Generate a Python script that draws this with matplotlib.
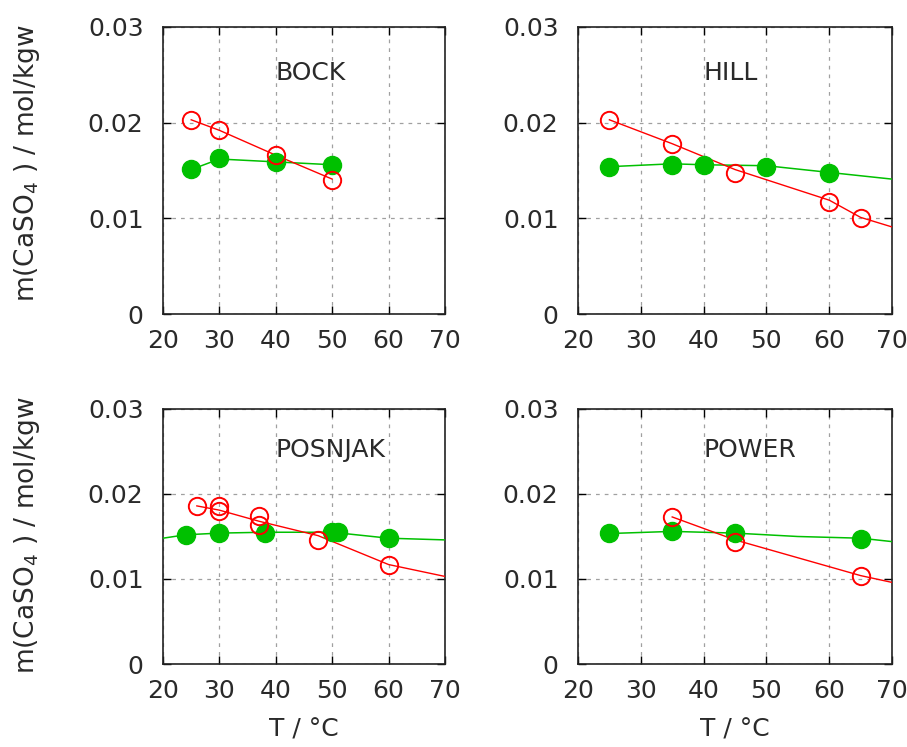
import matplotlib
matplotlib.use('Agg')
import matplotlib.pyplot as plt

# --- data (T in degC, m in mol/kgw) ---
panels = ['BOCK', 'HILL', 'POSNJAK', 'POWER']

# anhydrite (red, open circles) - measured points
anh_T = {
    'BOCK': [25, 30, 40, 50],
    'HILL': [25, 35, 45, 60, 65],
    'POSNJAK': [26, 30, 30, 37, 37, 47.5, 60],
    'POWER': [35, 45, 65],
}
anh_m = {
    'BOCK': [0.0203, 0.0192, 0.0166, 0.0140],
    'HILL': [0.0203, 0.0178, 0.0147, 0.0117, 0.0100],
    'POSNJAK': [0.0186, 0.0186, 0.0180, 0.0174, 0.0164, 0.0146, 0.0116],
    'POWER': [0.0173, 0.0144, 0.0104],
}
# gypsum (green, filled circles) - measured points
gyp_T = {
    'BOCK': [25, 30, 40, 50],
    'HILL': [25, 35, 40, 50, 60],
    'POSNJAK': [24, 30, 38, 50, 51, 60],
    'POWER': [25, 35, 45, 65],
}
gyp_m = {
    'BOCK': [0.0152, 0.0163, 0.0159, 0.0156],
    'HILL': [0.0154, 0.0156, 0.0156, 0.0154, 0.0147],
    'POSNJAK': [0.0152, 0.0154, 0.0154, 0.0155, 0.0155, 0.0148],
    'POWER': [0.0154, 0.0156, 0.0154, 0.0147],
}

# model curves
anh_mod_T = {
    'BOCK': [25, 30, 40, 50],
    'HILL': [25, 35, 45, 60, 65, 70],
    'POSNJAK': [26, 30, 37, 47.5, 60, 70],
    'POWER': [35, 45, 65, 70],
}
anh_mod_m = {
    'BOCK': [0.0203, 0.0192, 0.0166, 0.0141],
    'HILL': [0.0203, 0.0178, 0.0151, 0.0119, 0.0101, 0.0091],
    'POSNJAK': [0.0186, 0.0181, 0.0168, 0.0151, 0.0117, 0.0103],
    'POWER': [0.0173, 0.0146, 0.0104, 0.0096],
}
gyp_mod_T = {
    'BOCK': [25, 30, 40, 50],
    'HILL': [25, 35, 40, 50, 60, 70],
    'POSNJAK': [20, 24, 30, 38, 50, 60, 70],
    'POWER': [25, 35, 45, 55, 65, 70],
}
gyp_mod_m = {
    'BOCK': [0.0151, 0.0162, 0.0159, 0.0156],
    'HILL': [0.0154, 0.0157, 0.0156, 0.0155, 0.0148, 0.0141],
    'POSNJAK': [0.0148, 0.0152, 0.0154, 0.0155, 0.0155, 0.0148, 0.0146],
    'POWER': [0.01535, 0.0156, 0.0154, 0.0150, 0.0148, 0.0144],
}

RED = '#ff0000'
GREEN = '#00c000'
TXT = '#2a2a2a'
fs = 18

plt.rcParams['font.family'] = 'DejaVu Sans'
fig = plt.figure(figsize=(9.07, 7.47), dpi=100, facecolor='white')

W, H = 907.0, 747.0
# axes boxes in pixels: left, right, top, bottom
boxes = {
    'BOCK': (163, 445, 27, 314),
    'HILL': (578, 892, 27, 314),
    'POSNJAK': (163, 445, 409, 664),
    'POWER': (578, 892, 409, 664),
}

for name in panels:
    l, r, t, b = boxes[name]
    ax = fig.add_axes([l / W, 1 - b / H, (r - l) / W, (b - t) / H])
    ax.set_xlim(20, 70)
    ax.set_ylim(0, 0.03)
    ax.set_xticks([20, 30, 40, 50, 60, 70])
    ax.set_yticks([0, 0.01, 0.02, 0.03])
    ax.set_yticklabels(['0', '0.01', '0.02', '0.03'])
    ax.grid(True, color='#a0a0a0', linestyle=(0, (3, 4)), linewidth=0.9)
    ax.tick_params(direction='in', top=True, right=True, length=6,
                   width=1, labelsize=fs, colors='black', labelcolor=TXT)
    ax.tick_params(axis='x', pad=11)
    ax.tick_params(axis='y', pad=14)
    for sp in ax.spines.values():
        sp.set_linewidth(1.2)
        sp.set_color('#222222')

    ax.plot(gyp_mod_T[name], gyp_mod_m[name], color=GREEN, lw=1.1,
            clip_on=True, zorder=3)
    ax.plot(anh_mod_T[name], anh_mod_m[name], color=RED, lw=1.0,
            clip_on=True, zorder=3)
    ax.plot(gyp_T[name], gyp_m[name], 'o', color=GREEN, ms=13,
            mec=GREEN, zorder=4)
    ax.plot(anh_T[name], anh_m[name], 'o', mfc='none', mec=RED, mew=1.4,
            ms=12.5, zorder=5)

    ax.text(40, 0.0252, name, ha='left', va='center', fontsize=fs,
            color=TXT)

    if name in ('POSNJAK', 'POWER'):
        ax.set_xlabel('T / °C', fontsize=fs, color=TXT, labelpad=10)

ylab = 'm(CaSO$_4$ ) / mol/kgw'
fig.text(27 / W, 1 - 163 / H, ylab, rotation=90,
         ha='center', va='center', fontsize=19, color=TXT)
fig.text(27 / W, 1 - 535 / H, ylab, rotation=90,
         ha='center', va='center', fontsize=19, color=TXT)

fig.savefig('out.png', dpi=100, facecolor='white')
